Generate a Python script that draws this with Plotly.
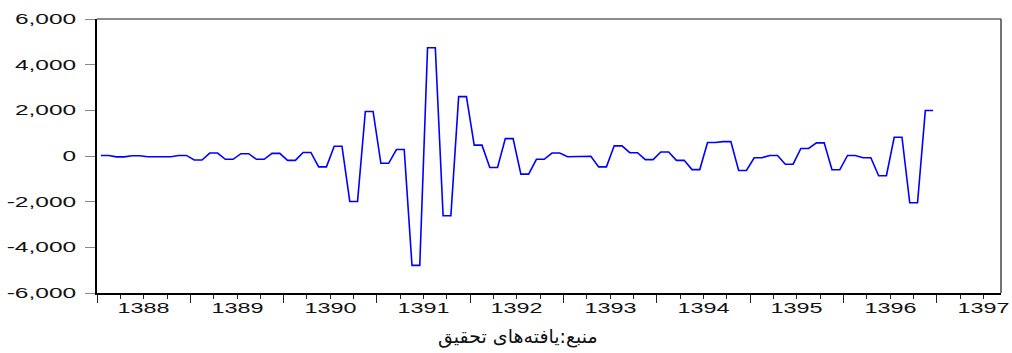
import plotly.graph_objects as go

# Monthly observations 1388M01 .. 1396M12
years = list(range(1388, 1397))
months = [f"{y}M{m:02d}" for y in years for m in range(1, 13)]

values = [
    20, 20, -40, -40, 10, 10, -30, -30, -30, -30, 25, 25,
    -175, -175, 130, 130, -145, -145, 100, 100, -145, -145, 115, 115,
    -190, -190, 155, 155, -475, -475, 430, 430, -1990, -1990, 1950, 1950,
    -320, -320, 285, 285, -4790, -4790, 4740, 4740, -2620, -2620, 2600, 2600,
    475, 475, -505, -505, 760, 760, -795, -795, -145, -145, 130, 130,
    -30, -30, -10, -10, -475, -475, 445, 445, 145, 145, -160, -160,
    175, 175, -190, -190, -595, -595, 590, 590, 630, 630, -635, -635,
    -75, -75, 25, 25, -360, -360, 330, 330, 575, 575, -605, -605,
    25, 25, -75, -75, -865, -865, 820, 820, -2050, -2050, 1990, 1990,
]

year_labels = ["1388", "1389", "1390", "1391", "1392", "1393", "1394", "1395", "1396", "1397"]
y_ticks = [-6000, -4000, -2000, 0, 2000, 4000, 6000]
y_tick_text = ["-6,000", "-4,000", "-2,000", "0", "2,000", "4,000", "6,000"]
caption = "منبع:یافته\u200cهای تحقیق"

# each month plotted at the middle of its interval
x = [int(s[:4]) + (int(s[5:]) - 0.5) / 12 for s in months]

fig = go.Figure()
fig.add_trace(go.Scatter(x=x, y=values, mode="lines",
                         line=dict(color="#0000FF", width=1.6),
                         hoverinfo="skip", showlegend=False))

x_min, x_max = 1388.0, 1397.686

fig.update_layout(
    width=1012, height=353,
    margin=dict(l=97, r=11, t=16, b=60),
    paper_bgcolor="white", plot_bgcolor="white",
    font=dict(family="Liberation Sans", size=14, color="#111"),
    xaxis=dict(
        range=[x_min, x_max],
        tickmode="array",
        tickvals=[int(s) for s in year_labels],
        ticks="outside", ticklen=8, tickwidth=1.2, tickcolor="#222",
        showticklabels=False,
        showgrid=False, zeroline=False,
        showline=True, linecolor="#000", linewidth=2,
        minor=dict(tickmode="linear", tick0=1388, dtick=0.25,
                   ticks="outside", ticklen=4, tickwidth=1.2, tickcolor="#222",
                   showgrid=False),
    ),
    yaxis=dict(
        range=[-6000, 6000],
        tickmode="array", tickvals=y_ticks, ticktext=y_tick_text,
        ticks="outside", ticklen=10, tickwidth=1.2, tickcolor="#888",
        ticklabelstandoff=6,
        tickfont=dict(family="Liberation Sans", size=14, color="#111"),
        showgrid=False, zeroline=False,
        showline=True, linecolor="#000", linewidth=2,
    ),
    shapes=[
        dict(type="line", xref="paper", yref="paper", x0=0, x1=1, y0=1, y1=1,
             line=dict(color="#666", width=1.5)),
        dict(type="line", xref="paper", yref="paper", x0=1, x1=1, y0=0, y1=1,
             line=dict(color="#444", width=1.5)),
    ],
)

for lab in year_labels:
    fig.add_annotation(x=int(lab) + 0.5, xref="x", y=-0.056, yref="paper",
                       text=lab, showarrow=False, xanchor="center", yanchor="middle",
                       font=dict(family="Liberation Sans", size=14, color="#111"))

fig.add_annotation(x=0.466, xref="paper", y=-0.159, yref="paper",
                   text=caption, showarrow=False, xanchor="center", yanchor="middle",
                   font=dict(family="DejaVu Sans", size=19, color="#111"))

# the reference's labels are horizontally stretched glyphs: widen them in place
post = """
var gd = document.getElementById('{plot_id}');
function stretch(t, k) {
  var w = t.getComputedTextLength();
  t.setAttribute('lengthAdjust', 'spacingAndGlyphs');
  t.setAttribute('textLength', (w * k).toFixed(1));
}
gd.querySelectorAll('.ytick text').forEach(function(t){ stretch(t, 1.75); });
gd.querySelectorAll('g.annotation').forEach(function(g){
  if (g.getAttribute('data-index') !== '10') {
    g.querySelectorAll('text').forEach(function(t){ stretch(t, 1.67); });
  }
});
"""

fig.write_html("out.html", post_script=post)
